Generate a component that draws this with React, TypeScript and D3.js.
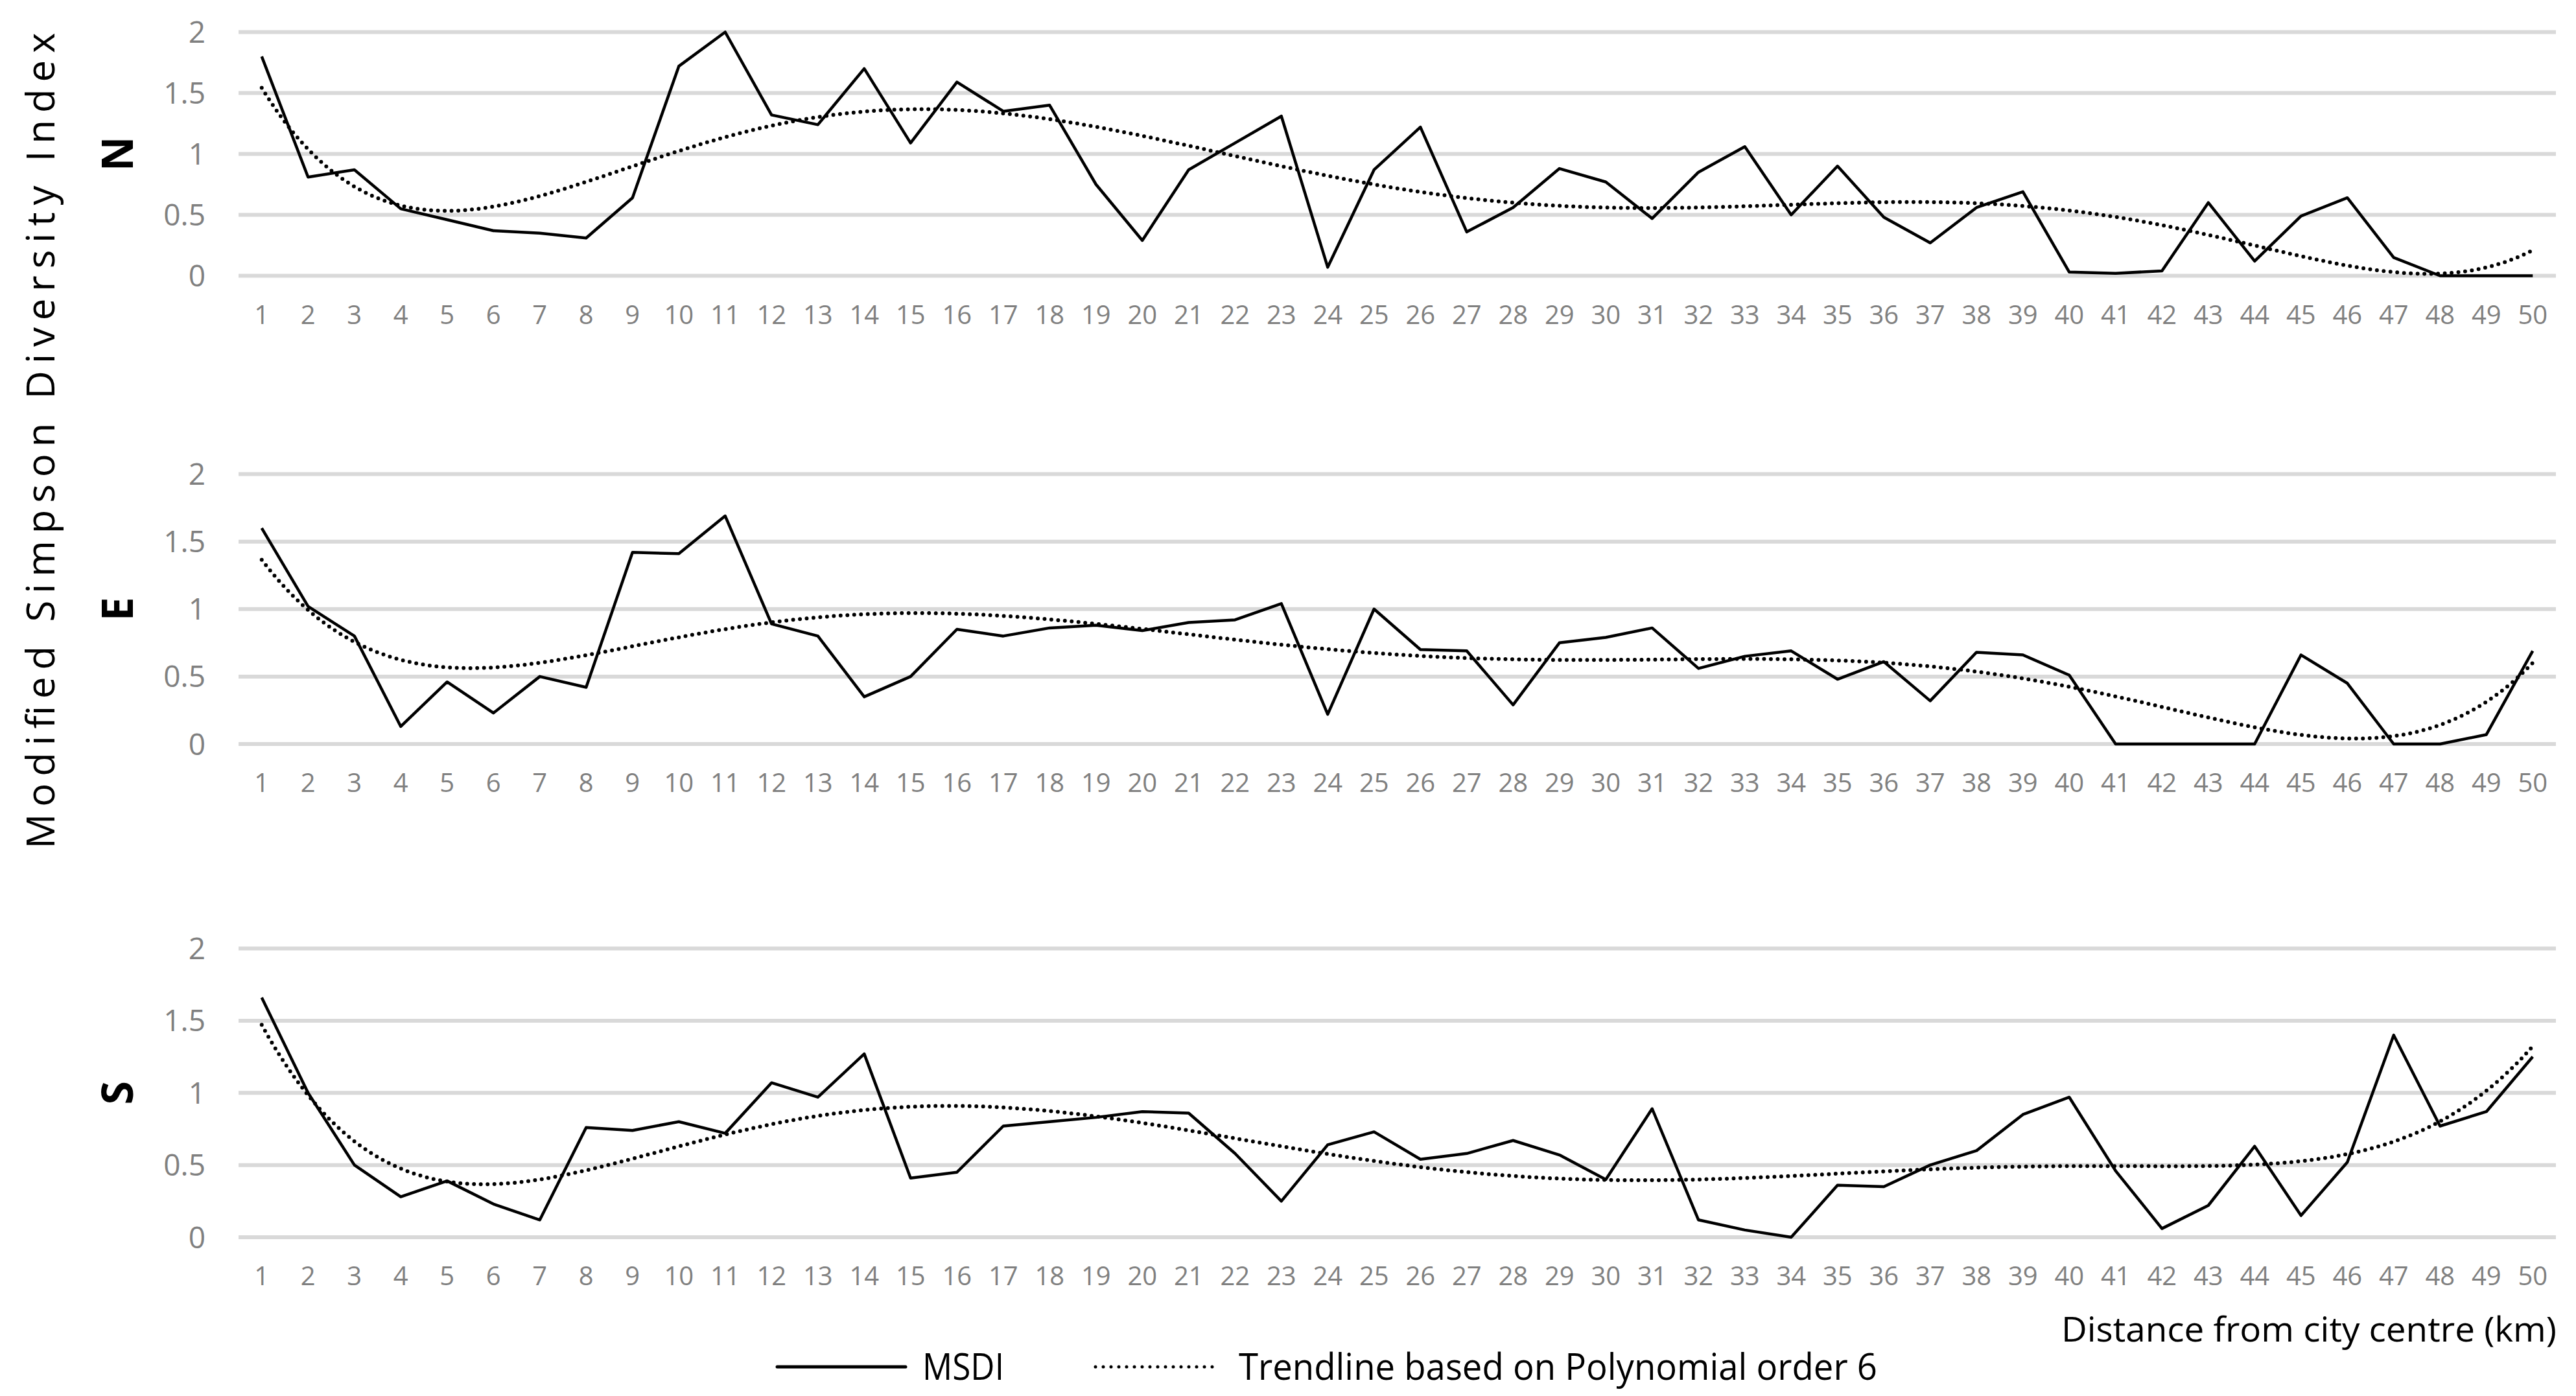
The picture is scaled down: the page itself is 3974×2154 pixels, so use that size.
import React, { useEffect, useRef } from 'react'
import * as d3 from 'd3'

const distances = d3.range(1, 51)
const yTicks = [0, 0.5, 1, 1.5, 2]

const northMsdi = [
  1.8, 0.81, 0.87, 0.55, 0.46, 0.37, 0.35, 0.31, 0.64, 1.72, 2.0, 1.32, 1.24,
  1.7, 1.09, 1.59, 1.35, 1.4, 0.75, 0.29, 0.87, 1.09, 1.31, 0.07, 0.87, 1.22,
  0.36, 0.56, 0.88, 0.77, 0.47, 0.85, 1.06, 0.5, 0.9, 0.48, 0.27, 0.56, 0.69,
  0.03, 0.02, 0.04, 0.6, 0.12, 0.49, 0.64, 0.15, 0, 0, 0,
]
const eastMsdi = [
  1.6, 1.02, 0.8, 0.13, 0.46, 0.23, 0.5, 0.42, 1.42, 1.41, 1.69, 0.89, 0.8,
  0.35, 0.5, 0.85, 0.8, 0.86, 0.88, 0.84, 0.9, 0.92, 1.04, 0.22, 1.0, 0.7, 0.69,
  0.29, 0.75, 0.79, 0.86, 0.56, 0.65, 0.69, 0.48, 0.61, 0.32, 0.68, 0.66, 0.51,
  0, 0, 0, 0, 0.66, 0.45, 0, 0, 0.07, 0.69,
]
const southMsdi = [
  1.66, 1.0, 0.5, 0.28, 0.39, 0.23, 0.12, 0.76, 0.74, 0.8, 0.72, 1.07, 0.97,
  1.27, 0.41, 0.45, 0.77, 0.8, 0.83, 0.87, 0.86, 0.58, 0.25, 0.64, 0.73, 0.54,
  0.58, 0.67, 0.57, 0.4, 0.89, 0.12, 0.05, 0, 0.36, 0.35, 0.5, 0.6, 0.85, 0.97,
  0.46, 0.06, 0.22, 0.63, 0.15, 0.52, 1.4, 0.77, 0.87, 1.25,
]

// least squares polynomial trendline (what Excel's "Polynomial order 6" does)
function polyFit(xs: number[], ys: number[], order: number) {
  const lo = d3.min(xs)!
  const hi = d3.max(xs)!
  const mid = (lo + hi) / 2
  const half = (hi - lo) / 2
  const n = order + 1
  const A = d3.range(n).map(() => new Array(n + 1).fill(0))
  xs.forEach((xv, k) => {
    const t = (xv - mid) / half
    const p = d3.range(n).map((i) => t ** i)
    for (let i = 0; i < n; i++) {
      for (let j = 0; j < n; j++) A[i][j] += p[i] * p[j]
      A[i][n] += p[i] * ys[k]
    }
  })
  for (let c = 0; c < n; c++) {
    let piv = c
    for (let r = c + 1; r < n; r++) if (Math.abs(A[r][c]) > Math.abs(A[piv][c])) piv = r
    ;[A[c], A[piv]] = [A[piv], A[c]]
    for (let r = 0; r < n; r++) {
      if (r === c) continue
      const f = A[r][c] / A[c][c]
      for (let k = c; k <= n; k++) A[r][k] -= f * A[c][k]
    }
  }
  const coef = d3.range(n).map((i) => A[i][n] / A[i][i])
  return (xv: number) => {
    const t = (xv - mid) / half
    return coef.reduce((s, c, i) => s + c * t ** i, 0)
  }
}

export default function App(): React.ReactElement {
  const svgRef = useRef<SVGSVGElement>(null)

  useEffect(() => {
    document.body.style.margin = '0'
    const svg = d3.select(svgRef.current)
    svg.selectAll('*').remove()

    const font = "'Open Sans', sans-serif"
    const left = 368
    const right = 3943

    const x = d3.scaleBand<number>().domain(distances).range([left, right])
    const cx = (d: number) => x(d)! + x.bandwidth() / 2
    const xCont = d3
      .scaleLinear()
      .domain([distances[0], distances[distances.length - 1]])
      .range([cx(distances[0]), cx(distances[distances.length - 1])])

    const panels = [
      { label: 'N', values: northMsdi, top: 49.5, bottom: 425.5 },
      { label: 'E', values: eastMsdi, top: 731.5, bottom: 1148 },
      { label: 'S', values: southMsdi, top: 1463.5, bottom: 1909 },
    ]

    panels.forEach((p) => {
      const y = d3.scaleLinear().domain([0, 2]).range([p.bottom, p.top])
      const g = svg.append('g')

      g.append('g')
        .selectAll('line')
        .data(yTicks)
        .join('line')
        .attr('x1', left)
        .attr('x2', right)
        .attr('y1', (d) => y(d))
        .attr('y2', (d) => y(d))
        .attr('stroke', '#d9d9d9')
        .attr('stroke-width', 6)

      g.append('g')
        .attr('font-family', font)
        .attr('font-size', 46)
        .attr('fill', '#808080')
        .attr('text-anchor', 'end')
        .selectAll('text')
        .data(yTicks)
        .join('text')
        .attr('x', 317)
        .attr('y', (d) => y(d))
        .attr('dy', '0.36em')
        .text((d) => d3.format('~g')(d))

      g.append('g')
        .attr('font-family', font)
        .attr('font-size', 40)
        .attr('fill', '#808080')
        .attr('text-anchor', 'middle')
        .selectAll('text')
        .data(distances)
        .join('text')
        .attr('x', (d) => cx(d))
        .attr('y', p.bottom + 74)
        .text((d) => d)

      g.append('text')
        .attr('transform', `translate(205,${(p.top + p.bottom) / 2}) rotate(-90)`)
        .attr('text-anchor', 'middle')
        .attr('font-family', font)
        .attr('font-weight', 'bold')
        .attr('font-size', 66)
        .text(p.label)

      const trend = polyFit(distances, p.values, 6)
      const fine = d3.range(distances[0], distances[distances.length - 1] + 0.001, 0.1)

      g.append('path')
        .datum(fine)
        .attr('fill', 'none')
        .attr('stroke', '#000')
        .attr('stroke-width', 6)
        .attr('stroke-linecap', 'round')
        .attr('stroke-dasharray', '0 10.5')
        .attr(
          'd',
          d3
            .line<number>()
            .x((d) => xCont(d))
            .y((d) => y(trend(d)))
        )

      g.append('path')
        .datum(p.values)
        .attr('fill', 'none')
        .attr('stroke', '#000')
        .attr('stroke-width', 4.5)
        .attr('stroke-linejoin', 'round')
        .attr(
          'd',
          d3
            .line<number>()
            .x((_, i) => cx(distances[i]))
            .y((d) => y(d))
        )
    })

    svg
      .append('text')
      .attr('transform', 'translate(84,680) rotate(-90)')
      .attr('text-anchor', 'middle')
      .attr('font-family', font)
      .attr('font-size', 60)
      .attr('textLength', 1259)
      .attr('lengthAdjust', 'spacing')
      .text('Modified Simpson Diversity Index')

    svg
      .append('text')
      .attr('x', 3944)
      .attr('y', 2070)
      .attr('text-anchor', 'end')
      .attr('font-family', font)
      .attr('font-size', 53)
      .attr('textLength', 764)
      .attr('lengthAdjust', 'spacingAndGlyphs')
      .text('Distance from city centre (km)')

    // legend
    const lg = svg.append('g').attr('font-family', font).attr('font-size', 57)
    lg.append('line')
      .attr('x1', 1199)
      .attr('x2', 1397)
      .attr('y1', 2109)
      .attr('y2', 2109)
      .attr('stroke', '#000')
      .attr('stroke-width', 5)
      .attr('stroke-linecap', 'round')
    lg.append('text')
      .attr('x', 1423)
      .attr('y', 2129)
      .attr('textLength', 126)
      .attr('lengthAdjust', 'spacingAndGlyphs')
      .text('MSDI')
    lg.append('line')
      .attr('x1', 1690)
      .attr('x2', 1882)
      .attr('y1', 2109)
      .attr('y2', 2109)
      .attr('stroke', '#000')
      .attr('stroke-width', 5)
      .attr('stroke-linecap', 'round')
      .attr('stroke-dasharray', '0 12')
    lg.append('text')
      .attr('x', 1911)
      .attr('y', 2129)
      .attr('textLength', 985)
      .attr('lengthAdjust', 'spacingAndGlyphs')
      .text('Trendline based on Polynomial order 6')
  }, [])

  return (
    <svg
      ref={svgRef}
      width={3974}
      height={2154}
      style={{ position: 'absolute', left: 0, top: 0, background: '#fff', display: 'block' }}
    />
  )
}
